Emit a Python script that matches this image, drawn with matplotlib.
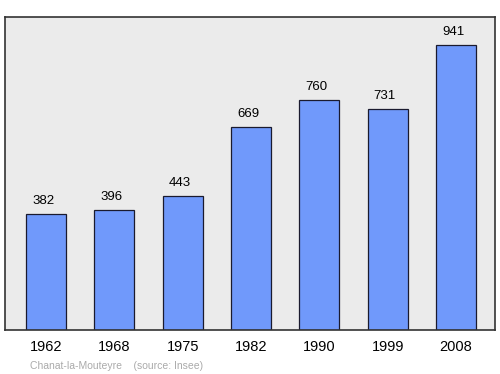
import matplotlib
matplotlib.use("Agg")
import matplotlib.pyplot as plt

years = ["1962", "1968", "1975", "1982", "1990", "1999", "2008"]
population = [382, 396, 443, 669, 760, 731, 941]

plt.rcParams['font.family'] = ['Liberation Sans', 'DejaVu Sans']

fig = plt.figure(figsize=(5, 3.74), dpi=100)
ax = fig.add_axes([0.01, 0.1176, 0.98, 0.8369])
ax.set_facecolor('#ebebeb')

x = list(range(len(years)))
ax.bar(x, population, width=0.585, color='#7099fb', edgecolor='#1a1a2e', linewidth=0.9, zorder=2)
for xi, v in zip(x, population):
    ax.annotate(str(v), (xi, v), xytext=(-2, 5), textcoords='offset points',
                ha='center', va='bottom', fontsize=9.5)

ax.set_xlim(-0.6, 6.57)
ax.set_ylim(0, 1033)
ax.set_yticks([])
ax.set_xticks(x)
ax.set_xticklabels(years, fontsize=10.5)
ax.tick_params(axis='x', length=0, pad=7)
for s in ax.spines.values():
    s.set_color('#333333')
    s.set_linewidth(1.2)

fig.text(0.06, 0.013, "Chanat-la-Mouteyre    (source: Insee)", fontsize=7.5, color='#aaaaaa')

fig.savefig("out.png")
